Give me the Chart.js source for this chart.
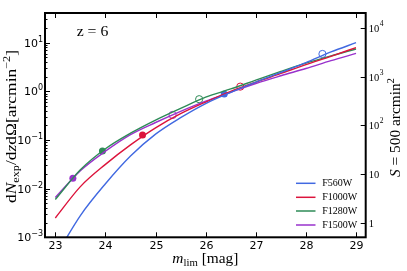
<!DOCTYPE html>
<html>
<head>
<meta charset="utf-8">
<script src="https://cdn.jsdelivr.net/npm/chart.js@4"></script>
<style>
  html, body { margin: 0; padding: 0; background: #fff; }
  canvas { display: block; }
</style>
</head>
<body>
<canvas id="chart" width="407" height="271"></canvas>
<script>
// magnitude limite (eixo x)
const mags = [23, 23.5, 24, 24.5, 25, 25.5, 26, 26.5, 27, 27.5, 28, 28.5, 29];

// dN_exp/dzdΩ [arcmin^-2] por filtro
const f560w  = [0.0004, 0.0028, 0.0126, 0.0468, 0.132, 0.288, 0.562, 0.955, 1.55, 2.45, 3.89, 6.46, 10.0];
const f1000w = [0.0025, 0.011, 0.0316, 0.0794, 0.178, 0.347, 0.603, 1.0, 1.55, 2.34, 3.55, 5.25, 7.94];
const f1280w = [0.006, 0.0245, 0.0661, 0.138, 0.257, 0.447, 0.759, 1.12, 1.70, 2.57, 3.80, 5.37, 7.41];
const f1500w = [0.0066, 0.0234, 0.0589, 0.129, 0.229, 0.389, 0.631, 0.955, 1.45, 2.09, 2.95, 4.27, 6.03];

// marcadores (cheio e vazio) por filtro
const filledMag = [26.37, 24.74, 23.94, 23.35];
const filledVal = [0.885, 0.127, 0.0597, 0.0164];
const openMag = [28.33, 26.69, 25.87, 25.34];
const openVal = [5.87, 1.25, 0.69, 0.327];

const filters = ['F560W', 'F1000W', 'F1280W', 'F1500W'];
const series = [f560w, f1000w, f1280w, f1500w];
const colors = ['#4169E1', '#DC143C', '#2E8B57', '#9932CC'];

// ticks
const xTicks = [23, 24, 25, 26, 27, 28, 29];
const yTicks = [0.001, 0.01, 0.1, 1, 10];
const yTickExp = ['\u22123', '\u22122', '\u22121', '0', '1'];
const y2Ticks = [1, 10, 100, 1000, 10000];
const y2TickLabels = [['1', ''], ['10', ''], ['10', '2'], ['10', '3'], ['10', '4']];
const area = 500; // S = 500 arcmin^2

const yMin = 0.001, yMax = 40.8;

const datasets = [];
series.forEach((s, i) => {
    datasets.push({
        type: 'line',
        label: filters[i],
        data: mags.map((m, j) => ({ x: m, y: s[j] })),
        borderColor: colors[i],
        borderWidth: 1.4,
        pointRadius: 0,
        cubicInterpolationMode: 'monotone',
        fill: false
    });
});
filters.forEach((f, i) => {
    datasets.push({
        type: 'scatter',
        label: f + ' filled',
        data: [{ x: filledMag[i], y: filledVal[i] }],
        pointRadius: 3.5,
        pointBackgroundColor: colors[i],
        pointBorderColor: colors[i],
        pointBorderWidth: 0
    });
    datasets.push({
        type: 'scatter',
        label: f + ' open',
        data: [{ x: openMag[i], y: openVal[i] }],
        pointRadius: 3.6,
        pointBackgroundColor: 'rgba(0,0,0,0)',
        pointBorderColor: colors[i],
        pointBorderWidth: 1
    });
});

// texto com itálico / sub / sup
function drawRich(ctx, parts, x, y, size, fam, width) {
    const fontOf = p => (p[1] === 'i' ? 'italic ' : '') +
        ((p[1] === 'sub' || p[1] === 'sup') ? size * 0.7 : size) + 'px ' + fam;
    let w = 0;
    parts.forEach(p => { ctx.font = fontOf(p); w += ctx.measureText(p[0]).width; });
    const sx = width ? width / w : 1;
    ctx.save();
    ctx.translate(x, y);
    ctx.scale(sx, 1);
    ctx.textAlign = 'left';
    ctx.textBaseline = 'alphabetic';
    let cx = -w / 2;
    parts.forEach(p => {
        ctx.font = fontOf(p);
        const dy = p[1] === 'sub' ? size * 0.22 : (p[1] === 'sup' ? -size * 0.4 : 0);
        ctx.fillText(p[0], cx, dy + size * 0.33);
        cx += ctx.measureText(p[0]).width;
    });
    ctx.restore();
}

const axesPlugin = {
    id: 'axesPlugin',
    afterDraw(chart) {
        const ctx = chart.ctx;
        const a = chart.chartArea;
        const xs = chart.scales.x, ys = chart.scales.y, ys2 = chart.scales.y2;
        const seg = (x1, y1, x2, y2) => { ctx.beginPath(); ctx.moveTo(x1, y1); ctx.lineTo(x2, y2); ctx.stroke(); };
        ctx.save();
        ctx.fillStyle = '#000';
        ctx.strokeStyle = '#000';
        ctx.lineWidth = 1;

        // ticks x (dentro, em baixo e em cima)
        ctx.font = '11px "DejaVu Sans"';
        ctx.textAlign = 'center';
        ctx.textBaseline = 'middle';
        xTicks.forEach(v => {
            const px = Math.round(xs.getPixelForValue(v)) + 0.5;
            seg(px, a.bottom, px, a.bottom - 5);
            seg(px, a.top, px, a.top + 5);
            ctx.fillText(String(v), px, a.bottom + 9);
        });

        // ticks y esquerda (maiores e menores)
        for (let k = -3; k <= 1; k++) {
            for (let m = 2; m <= 9; m++) {
                const v = m * Math.pow(10, k);
                if (v > yMax) continue;
                const py = Math.round(ys.getPixelForValue(v)) + 0.5;
                seg(a.left, py, a.left + 2.5, py);
            }
        }
        yTicks.forEach((v, i) => {
            const py = Math.round(ys.getPixelForValue(v)) + 0.5;
            seg(a.left, py, a.left + 5, py);
            ctx.textAlign = 'right';
            ctx.textBaseline = 'middle';
            ctx.font = '8px "DejaVu Sans"';
            const ew = ctx.measureText(yTickExp[i]).width;
            ctx.fillText(yTickExp[i], a.left - 2, py - 4);
            ctx.font = '11px "DejaVu Sans"';
            ctx.fillText('10', a.left - 2 - ew, py + 0.5);
        });

        // ticks y direita (S = 500 arcmin^2)
        y2Ticks.forEach((v, i) => {
            const py = Math.round(ys2.getPixelForValue(v)) + 0.5;
            seg(a.right - 5, py, a.right, py);
            ctx.textAlign = 'left';
            ctx.textBaseline = 'middle';
            ctx.font = '10.5px "Liberation Serif"';
            const lab = y2TickLabels[i];
            ctx.fillText(lab[0], a.right + 3, py + 0.5);
            const bw = ctx.measureText(lab[0]).width;
            if (lab[1]) {
                ctx.font = '7.5px "Liberation Serif"';
                ctx.fillText(lab[1], a.right + 3 + bw + 0.5, py - 4);
            }
        });

        // moldura
        ctx.lineWidth = 2;
        ctx.strokeRect(a.left, a.top, a.right - a.left, a.bottom - a.top);

        // títulos
        drawRich(ctx, [['m', 'i'], ['lim', 'sub'], [' [mag]', '']],
            (a.left + a.right) / 2, 258, 14, '"Liberation Serif"', 66);

        ctx.save();
        ctx.translate(11, 126.5);
        ctx.rotate(-Math.PI / 2);
        drawRich(ctx, [['d', ''], ['N', 'i'], ['exp', 'sub'], ['/d', ''], ['z', 'i'],
            ['d\u03A9', ''], ['[arcmin', ''], ['\u22122', 'sup'], [']', '']],
            0, 0, 14, '"Liberation Serif"', 153);
        ctx.restore();

        ctx.save();
        ctx.translate(395, 127.5);
        ctx.rotate(-Math.PI / 2);
        drawRich(ctx, [['S', 'i'], [' = 500 arcmin', ''], ['2', 'sup']],
            0, 0, 15, '"Liberation Serif"', 99);
        ctx.restore();

        // z = 6
        drawRich(ctx, [['z = 6', '']], 92.5, 31.7, 14, '"Liberation Serif"', 31.6);

        // legenda
        const rows = [183.3, 197.3, 211, 225];
        ctx.font = '10px "Liberation Serif"';
        ctx.textAlign = 'left';
        ctx.textBaseline = 'middle';
        filters.forEach((f, i) => {
            ctx.strokeStyle = colors[i];
            ctx.lineWidth = 1.5;
            seg(296, rows[i], 315.5, rows[i]);
            ctx.fillStyle = '#000';
            ctx.fillText(f, 322.3, rows[i] + 0.5);
        });
        ctx.restore();
    }
};

new Chart(document.getElementById('chart'), {
    data: { datasets },
    options: {
        responsive: false,
        animation: false,
        devicePixelRatio: 1,
        layout: { padding: { left: 45, right: 41.3, top: 13, bottom: 33.7 } },
        plugins: { legend: { display: false }, tooltip: { enabled: false } },
        scales: {
            x: { type: 'linear', min: 22.794, max: 29.193, display: false },
            y: { type: 'logarithmic', min: yMin, max: yMax, display: false },
            y2: { type: 'logarithmic', position: 'right', min: yMin * area, max: yMax * area, display: false }
        }
    },
    plugins: [axesPlugin]
});
</script>
</body>
</html>
